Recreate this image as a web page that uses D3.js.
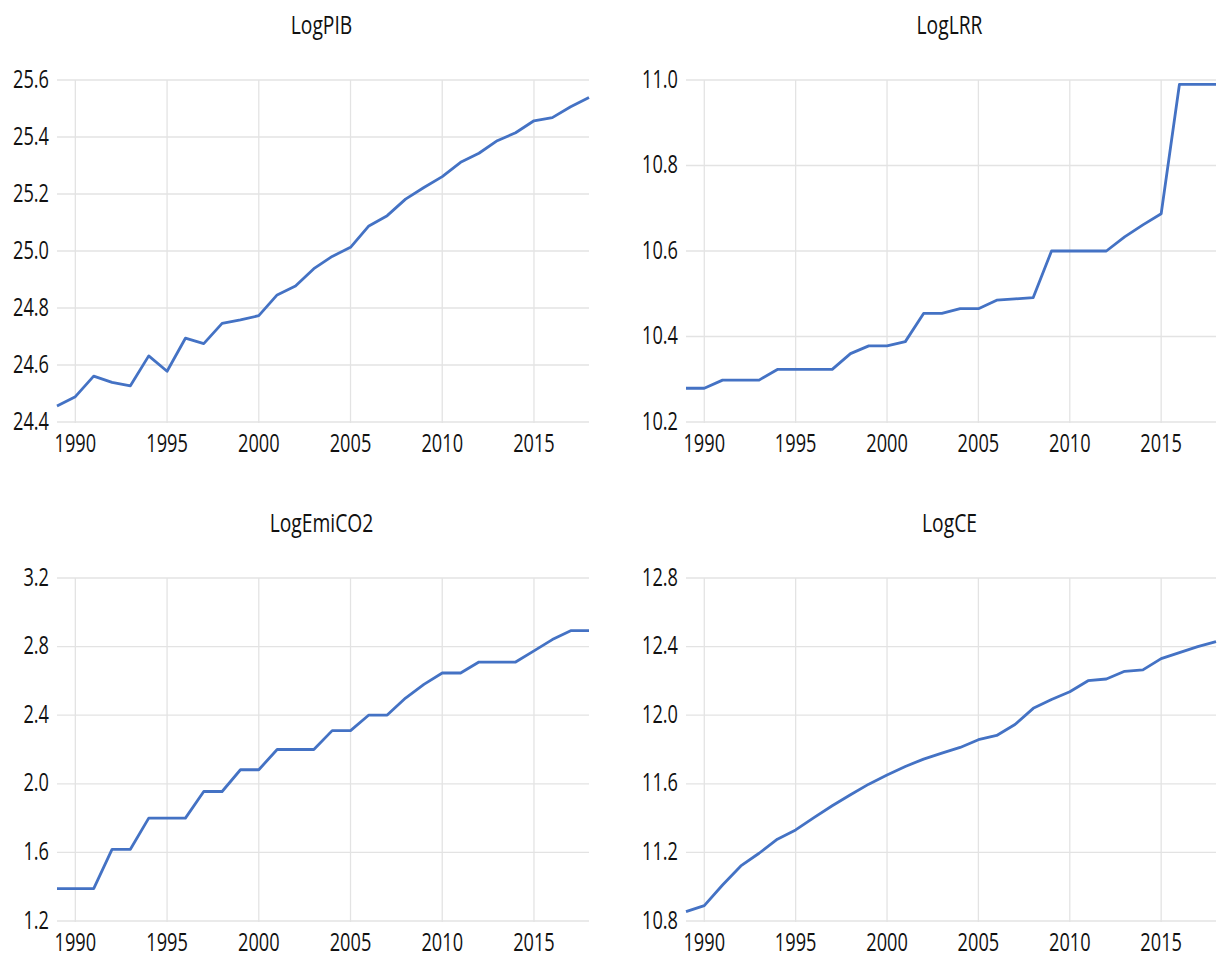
<!DOCTYPE html>
<html>
<head>
<meta charset="utf-8">
<script src="https://cdn.jsdelivr.net/npm/d3@7"></script>
<style>
    body { margin: 0; background: #fff; }
    svg text { font-family: "Open Sans", "Noto Sans", sans-serif; fill: #111; }
</style>
</head>
<body>
<svg id="chart"></svg>
<script>
let years = d3.range(1989, 2019);
let yearTicks = [1990, 1995, 2000, 2005, 2010, 2015];

let logPIB = [24.456, 24.489, 24.561, 24.539, 24.527, 24.632, 24.578, 24.694, 24.675, 24.746,
    24.758, 24.773, 24.846, 24.877, 24.938, 24.981, 25.013, 25.088, 25.124, 25.182,
    25.223, 25.261, 25.311, 25.343, 25.387, 25.415, 25.457, 25.468, 25.506, 25.539];
let logLRR = [10.279, 10.279, 10.298, 10.298, 10.298, 10.323, 10.323, 10.323, 10.323, 10.360,
    10.378, 10.378, 10.388, 10.454, 10.454, 10.465, 10.465, 10.485, 10.488, 10.491,
    10.600, 10.600, 10.600, 10.600, 10.633, 10.661, 10.687, 10.990, 10.990, 10.990];
let logEmiCO2 = [1.389, 1.389, 1.389, 1.618, 1.618, 1.800, 1.800, 1.800, 1.955, 1.955,
    2.082, 2.082, 2.200, 2.200, 2.200, 2.310, 2.310, 2.401, 2.401, 2.500,
    2.580, 2.646, 2.646, 2.710, 2.710, 2.710, 2.775, 2.841, 2.893, 2.893];
let logCE = [10.855, 10.890, 11.010, 11.121, 11.195, 11.277, 11.331, 11.403, 11.472, 11.536,
    11.598, 11.651, 11.701, 11.744, 11.779, 11.812, 11.857, 11.882, 11.946, 12.040,
    12.092, 12.137, 12.201, 12.211, 12.256, 12.264, 12.330, 12.365, 12.400, 12.429];

let titles = ['LogPIB', 'LogLRR', 'LogEmiCO2', 'LogCE'];
let pibTicks = [24.4, 24.6, 24.8, 25.0, 25.2, 25.4, 25.6];
let lrrTicks = [10.2, 10.4, 10.6, 10.8, 11.0];
let co2Ticks = [1.2, 1.6, 2.0, 2.4, 2.8, 3.2];
let ceTicks = [10.8, 11.2, 11.6, 12.0, 12.4, 12.8];

let width = 1217;
let height = 956;
let config = {
    lineColor: '#4472c4',
    gridColor: '#e3e3e3',
    fontSize: 26,
    // the source text is tall and narrow (Calibri-like), so squeeze it
    tickSqueeze: 0.7,
    titleSqueeze: 0.77
};

let svg = d3.select('#chart')
    .attr('width', width)
    .attr('height', height);

// panel boxes: x range of the years, y range of the gridlines
let panels = [
    {title: titles[0], values: logPIB, ticks: pibTicks, x0: 57, x1: 589, y0: 80, y1: 422},
    {title: titles[1], values: logLRR, ticks: lrrTicks, x0: 686, x1: 1216, y0: 80, y1: 422},
    {title: titles[2], values: logEmiCO2, ticks: co2Ticks, x0: 57, x1: 589, y0: 578, y1: 921},
    {title: titles[3], values: logCE, ticks: ceTicks, x0: 686, x1: 1216, y0: 578, y1: 921}
];

panels.forEach(drawPanel);

function drawPanel(p) {
    let xScale = d3.scaleLinear()
        .domain([1989, 2018])
        .range([p.x0, p.x1]);
    let yScale = d3.scaleLinear()
        .domain(d3.extent(p.ticks))
        .range([p.y1, p.y0]);
    let g = svg.append('g');

    // gridlines
    g.append('g')
        .selectAll('line')
        .data(p.ticks)
        .join('line')
        .attr('x1', p.x0)
        .attr('x2', p.x1)
        .attr('y1', d => yScale(d))
        .attr('y2', d => yScale(d))
        .attr('stroke', config.gridColor)
        .attr('stroke-width', 1.3);
    g.append('g')
        .selectAll('line')
        .data(yearTicks)
        .join('line')
        .attr('x1', d => xScale(d))
        .attr('x2', d => xScale(d))
        .attr('y1', p.y0)
        .attr('y2', p.y1 + 1)
        .attr('stroke', config.gridColor)
        .attr('stroke-width', 1.3);

    // y labels
    g.append('g')
        .selectAll('text')
        .data(p.ticks)
        .join('text')
        .attr('transform', d => `translate(${p.x0 - 8},${yScale(d) + 7.5}) scale(${config.tickSqueeze},1)`)
        .attr('text-anchor', 'end')
        .style('font-size', config.fontSize + 'px')
        .text(d => d3.format('.1f')(d));

    // x labels (kept a touch higher so the bottom row stays inside the page)
    g.append('g')
        .selectAll('text')
        .data(yearTicks)
        .join('text')
        .attr('transform', d => `translate(${xScale(d)},${p.y1 + 29.5}) scale(${config.tickSqueeze},1)`)
        .attr('text-anchor', 'middle')
        .style('font-size', config.fontSize + 'px')
        .text(d => d);

    // title
    g.append('text')
        .attr('transform', `translate(${(p.x0 + p.x1) / 2 - 1.5},${p.y0 - 46}) scale(${config.titleSqueeze},1)`)
        .attr('text-anchor', 'middle')
        .style('font-size', (config.fontSize - 1) + 'px')
        .text(p.title);

    let line = d3.line()
        .x((d, i) => xScale(years[i]))
        .y(d => yScale(d));
    g.append('path')
        .datum(p.values)
        .attr('d', line)
        .attr('fill', 'none')
        .attr('stroke', config.lineColor)
        .attr('stroke-width', 2.8)
        .attr('stroke-linejoin', 'round');
}
</script>
</body>
</html>
